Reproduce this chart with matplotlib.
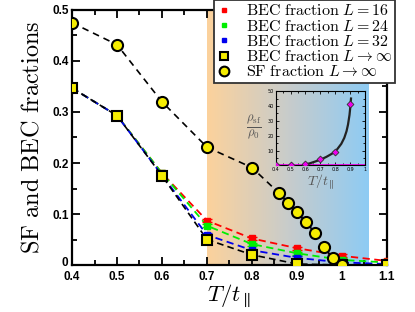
import numpy as np
import matplotlib.pyplot as plt
from matplotlib.lines import Line2D
from matplotlib.colors import LinearSegmentedColormap
from matplotlib.transforms import ScaledTranslation

plt.rcParams['mathtext.fontset'] = 'cm'

# data
T = [0.4, 0.5, 0.6, 0.7, 0.8, 0.9, 1.0, 1.1]
bec16 = [0.347, 0.293, 0.180, 0.087, 0.052, 0.033, 0.018, 0.008]
bec24 = [0.347, 0.293, 0.180, 0.077, 0.041, 0.023, 0.010, 0.005]
bec32 = [0.347, 0.293, 0.176, 0.059, 0.029, 0.014, 0.005, 0.002]
bec_inf = [0.347, 0.293, 0.175, 0.050, 0.020, 0.002, 0.0, 0.0]

T_sf = [0.4, 0.5, 0.6, 0.7, 0.8, 0.86, 0.88, 0.9, 0.92, 0.94, 0.96, 0.98, 1.0]
sf_inf = [0.475, 0.432, 0.320, 0.231, 0.191, 0.141, 0.122, 0.103, 0.084, 0.063, 0.035, 0.013, 0.001]

# inset: rho_sf / rho_0
T_in = [0.4, 0.5, 0.6, 0.7, 0.8, 0.9]
rho_in = [0.0, 0.0, 1.1, 4.0, 8.9, 41.0]
T_fit = [0.6, 0.63, 0.66, 0.7, 0.74, 0.78, 0.81, 0.84, 0.86, 0.875, 0.885, 0.895, 0.9, 0.905]
rho_fit = [0.6, 1.4, 2.4, 3.8, 5.7, 8.0, 10.5, 14.5, 18.5, 23.0, 27.5, 34.0, 39.0, 45.0]

fig = plt.figure(figsize=(4.15, 3.12), dpi=100)
ax = fig.add_axes([0.1735, 0.1506, 0.759, 0.8174])

# shaded band
cmap = LinearSegmentedColormap.from_list('band', ['#fcd29c', '#c8cccb', '#8ecbf4'])
ax.imshow(np.linspace(0, 1, 256).reshape(1, -1), cmap=cmap, aspect='auto',
          extent=[0.7, 1.058, 0, 0.5], zorder=0)

err = 0.003
for y, c in [(bec16, 'red'), (bec24, '#00ee00'), (bec32, '#0000ee')]:
    ax.plot(T, y, '--', color=c, lw=1.3, dashes=(4, 2.5), zorder=2)
    ax.errorbar(T, y, yerr=err, fmt='s', color=c, ms=4, capsize=3.5, elinewidth=1, zorder=3)

ax.plot(T, bec_inf, '--', color='black', lw=1.2, dashes=(4, 2.5), zorder=2)
ax.plot(T, bec_inf, 's', mfc='#f5ec00', mec='black', ms=7, mew=1.5, zorder=4)
ax.plot(T_sf, sf_inf, '--', color='black', lw=1.2, dashes=(4, 3), zorder=2)
ax.plot(T_sf, sf_inf, 'o', mfc='#f5ec00', mec='black', ms=8, mew=1.5, zorder=5)

ax.set_xlim(0.4, 1.1)
ax.set_ylim(0, 0.5)
ax.set_xticks(np.arange(0.4, 1.11, 0.1))
ax.set_xticklabels(['0.4', '0.5', '0.6', '0.7', '0.8', '0.9', '1', '1.1'])
ax.set_yticks([0, 0.1, 0.2, 0.3, 0.4, 0.5])
ax.set_yticklabels(['0', '0.1', '0.2', '0.3', '0.4', '0.5'])
ax.set_xticks(np.arange(0.45, 1.1, 0.1), minor=True)
ax.set_yticks(np.arange(0.05, 0.5, 0.1), minor=True)
ax.tick_params(which='both', direction='in', top=True, right=True, width=1.3)
ax.tick_params(which='major', length=6, labelsize=8.5, pad=2.5)
ax.tick_params(axis='x', which='major', pad=4)
ax.tick_params(which='minor', length=3.5)
for lab in ax.get_xticklabels() + ax.get_yticklabels():
    lab.set_fontweight('bold')
    lab.set_family('Liberation Sans')
# nudge the "0" up a little so it clears "0.4"
zero = ax.get_yticklabels()[0]
zero.set_transform(zero.get_transform() + ScaledTranslation(0, 2.5 / 72, fig.dpi_scale_trans))
for s in ax.spines.values():
    s.set_linewidth(1.6)

ax.set_xlabel(r'$T/t_{\parallel}$', fontsize=16.5, labelpad=0)
ax.set_ylabel(r'$\mathrm{SF\ and\ BEC\ fractions}$', fontsize=17.5, labelpad=6)

handles = [
    Line2D([], [], ls='none', marker='s', color='red', ms=3.5),
    Line2D([], [], ls='none', marker='s', color='#00ee00', ms=3.5),
    Line2D([], [], ls='none', marker='s', color='#0000ee', ms=3.5),
    Line2D([], [], ls='none', marker='s', mfc='#f5ec00', mec='black', ms=6, mew=1.5),
    Line2D([], [], ls='none', marker='o', mfc='#f5ec00', mec='black', ms=7, mew=1.5),
]
labels = [r'$\mathrm{BEC\ fraction}\ L=16$', r'$\mathrm{BEC\ fraction}\ L=24$',
          r'$\mathrm{BEC\ fraction}\ L=32$', r'$\mathrm{BEC\ fraction}\ L\rightarrow\infty$',
          r'$\mathrm{SF\ fraction}\ L\rightarrow\infty$']
leg = fig.legend(handles, labels, loc='upper left', bbox_to_anchor=(0.516, 1.0),
                 fontsize=11.5, frameon=True, fancybox=False, framealpha=1,
                 edgecolor='#333333', handlelength=0.8, handletextpad=1.0,
                 labelspacing=0.02, borderpad=0.2, borderaxespad=0)
leg.get_frame().set_linewidth(1.3)
leg.set_zorder(10)

# inset
ins = fig.add_axes([0.664, 0.470, 0.216, 0.238])
ins.patch.set_alpha(0)
ins.plot([0.4, 1.0], [0, 0], color='#ee00ee', lw=2, zorder=2)
ins.plot(T_fit, rho_fit, color='#222222', lw=1.6, zorder=3)
ins.plot(T_in, rho_in, 'D', mfc='#ee00ee', mec='#333333', ms=3.5, mew=0.6, zorder=4)
ins.set_xlim(0.4, 1.0)
ins.set_ylim(0, 50)
ins.set_xticks([0.4, 0.5, 0.6, 0.7, 0.8, 0.9, 1.0])
ins.set_xticklabels(['0.4', '0.5', '0.6', '0.7', '0.8', '0.9', '1'])
ins.set_yticks([10, 20, 30, 40, 50])
ins.set_xticks(np.arange(0.45, 1.0, 0.05), minor=True)
ins.set_yticks(np.arange(5, 50, 5), minor=True)
ins.tick_params(which='both', direction='in', top=True, right=True, width=0.6,
                labelsize=3.5, pad=1)
ins.tick_params(which='major', length=2.5)
ins.tick_params(which='minor', length=1.2)
for s in ins.spines.values():
    s.set_linewidth(0.8)
ins.set_xlabel(r'$T/t_{\parallel}$', fontsize=10, color='#555555', labelpad=0)
ins.set_ylabel(r'$\frac{\rho_{\mathrm{sf}}}{\rho_0}$', fontsize=13, color='#555555',
               rotation=0, labelpad=10, va='center')

fig.savefig('out.png', dpi=100)
